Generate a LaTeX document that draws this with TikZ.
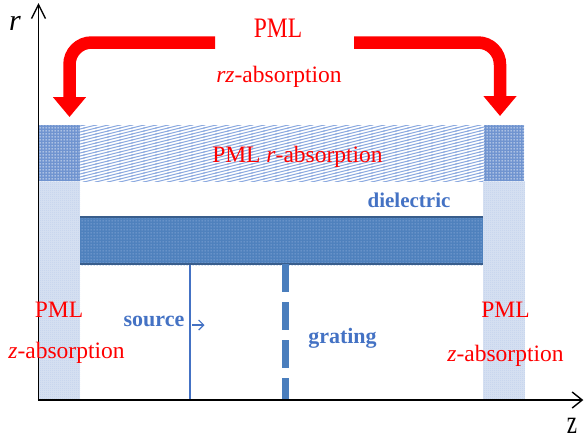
\documentclass[tikz,border=0pt]{standalone}
\usepackage{fontspec}
\setmainfont{Liberation Serif}
\usetikzlibrary{arrows.meta,patterns}
\definecolor{pmlred}{RGB}{255,0,0}
\definecolor{txtblue}{RGB}{68,114,196}
\definecolor{gratblue}{RGB}{74,126,189}
\definecolor{dielblue}{RGB}{79,129,189}
\definecolor{dieledge}{RGB}{56,93,140}
\definecolor{dieldot}{RGB}{140,172,218}
\definecolor{stripline}{RGB}{140,170,224}
\definecolor{cornerblue}{RGB}{112,148,208}
\definecolor{sideblue}{RGB}{212,223,241}
\definecolor{sidedot}{RGB}{185,204,234}
\pgfdeclarepatternformonly{shallowlines}{\pgfqpoint{-1pt}{-1pt}}{\pgfqpoint{13pt}{4pt}}{\pgfqpoint{12pt}{3pt}}{%
  \pgfsetlinewidth{1pt}%
  \pgfpathmoveto{\pgfqpoint{-1pt}{-0.25pt}}%
  \pgfpathlineto{\pgfqpoint{13pt}{3.25pt}}%
  \pgfusepath{stroke}}
\pgfdeclarepatternformonly{smalldots}{\pgfqpoint{0pt}{0pt}}{\pgfqpoint{3pt}{3pt}}{\pgfqpoint{3pt}{3pt}}{%
  \pgfpathrectangle{\pgfqpoint{0.7pt}{0.7pt}}{\pgfqpoint{1.4pt}{1.4pt}}%
  \pgfusepath{fill}}
\pgfdeclarepatternformonly{finecheck}{\pgfqpoint{0pt}{0pt}}{\pgfqpoint{2pt}{2pt}}{\pgfqpoint{2pt}{2pt}}{%
  \pgfpathrectangle{\pgfqpoint{0pt}{0pt}}{\pgfqpoint{1pt}{1pt}}%
  \pgfusepath{fill}}
\begin{document}
\begin{tikzpicture}[x=1pt,y=-1pt,
  redtext/.style={text=pmlred, inner sep=0pt, anchor=base, font=\fontsize{23.5}{28}\selectfont},
  bluetext/.style={text=txtblue, inner sep=0pt, anchor=base, font=\fontsize{22}{26}\selectfont\bfseries},
  redarrow/.style={draw=pmlred, line width=12.5pt, rounded corners=22pt, -{Triangle[length=20pt,width=32pt]}},
  axis/.style={draw=black, line width=1.4pt},
  cornerblock/.style={preaction={fill=cornerblue}, pattern=smalldots, pattern color=white},
  sidestrip/.style={preaction={fill=sideblue}, pattern=finecheck, pattern color=sidedot}]
\useasboundingbox (0,0) rectangle (584,440);
% PML regions
\path[preaction={fill=white}, pattern=shallowlines, pattern color=stripline] (38.5,125) rectangle (524,181);
\path[sidestrip] (38.5,181) rectangle (80,400);
\path[sidestrip] (483,181) rectangle (525,400);
\path[cornerblock] (38.5,125) rectangle (79.5,181);
\path[cornerblock] (484,125) rectangle (524,181);
% dielectric
\path[preaction={fill=dielblue}, pattern=smalldots, pattern color=dieldot] (80,216.5) rectangle (483,265);
\draw[dieledge, line width=1.5pt] (80,217.2) -- (483,217.2);
\draw[dieledge, line width=2.5pt] (80,264) -- (483,264);
% source
\coordinate (srcTop) at (190,265);
\coordinate (srcBot) at (190,400);
\draw[txtblue, line width=1.3pt] (srcTop) -- (srcBot);
\coordinate (srcA) at (192,325);
\coordinate (srcB) at (204.5,325);
\draw[txtblue, line width=1.2pt, -{Straight Barb[length=5pt,width=10pt]}] (srcA) -- (srcB);
% grating
\coordinate (grTop) at (285.5,264);
\coordinate (grBot) at (285.5,400);
\draw[gratblue, line width=7.7pt, dash pattern=on 28pt off 10pt] (grTop) -- (grBot);
% red arrows
\coordinate (la0) at (215,42.5);
\coordinate (la1) at (69.5,42.5);
\coordinate (la2) at (69.5,117);
\coordinate (ra0) at (354,42.5);
\coordinate (ra1) at (500,42.5);
\coordinate (ra2) at (500,116);
\draw[redarrow] (la0) -- (la1) -- (la2);
\draw[redarrow] (ra0) -- (ra1) -- (ra2);
% axes
\coordinate (O) at (38.5,400.7);
\coordinate (rtip) at (38.5,3);
\coordinate (ztip) at (583.3,400);
\draw[axis, -{Straight Barb[length=14pt,width=14pt]}] (O) -- (rtip);
\draw[axis, -{Straight Barb[length=10pt,width=16pt]}] (37.8,400) -- (ztip);
\node[inner sep=0pt, anchor=base, font=\fontsize{30}{34}\selectfont\itshape] (rlab) at (15,30) {r};
\node[inner sep=0pt, anchor=base, font=\fontsize{23}{26}\selectfont] (zlab) at (572,433) {\scalebox{1}[1.45]{z}};
% red labels
\node[redtext] (pmltop) at (278,37) {\scalebox{1}[1.2]{PML}};
\node[redtext] (rzabs) at (279,82) {\textit{rz}-absorption};
\node[redtext] (rabs) at (297.5,162) {PML \textit{r}-absorption};
\node[redtext] (pmlL) at (59,317) {PML};
\node[redtext] (zabsL) at (66.5,358.5) {\textit{z}-absorption};
\node[redtext] (pmlR) at (505.5,317) {PML};
\node[redtext] (zabsR) at (505.5,361) {\textit{z}-absorption};
% blue labels
\node[bluetext, font=\fontsize{21}{25}\selectfont\bfseries] (diel) at (409,207.7) {dielectric};
\node[bluetext] (srclab) at (154,326.7) {source};
\node[bluetext] (grlab) at (342.5,343) {grating};
\end{tikzpicture}
\end{document}
